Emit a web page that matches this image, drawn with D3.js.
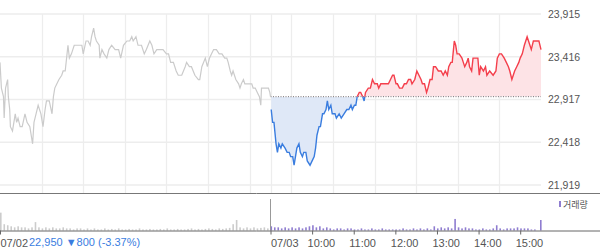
<!DOCTYPE html>
<html>
<head>
<meta charset="utf-8">
<script src="https://cdn.jsdelivr.net/npm/d3@7"></script>
<style>
 html, body { margin: 0; padding: 0; background: #fff; }
 svg { display: block; font-family: "Liberation Sans", Arial, sans-serif; }
</style>
</head>
<body>
<div id="chart"></div>
<script>
// values
var dayLabels = ["07/02", "07/03"];
var hourLabels = ["10:00", "11:00", "12:00", "13:00", "14:00", "15:00"];
var priceTicks = [21919, 22418, 22917, 23416, 23915];
var prevClose = 22950, prevChange = -800, prevChangePct = -3.37;

// minutes after 09:00 and price, day 1 (07/02)
var day1Minutes = [0, 2, 5, 6, 8, 11, 12, 14, 15, 18, 22, 24, 26, 29, 32, 36, 39, 43, 47, 49, 52, 55, 59, 62, 65, 67, 71, 75, 77, 79,
 82, 85, 89, 91, 94, 96, 98, 100, 103, 107, 111, 114, 118, 120, 124, 127, 130, 132, 135, 137, 139, 143, 144, 147, 150, 154, 157, 161, 166, 171,
 174, 178, 183, 187, 190, 192, 196, 199, 204, 208, 211, 216, 219, 222, 226, 231, 235, 240, 243, 246, 250, 254, 257, 262, 267, 269, 273, 276, 281, 286,
 288, 291, 296, 299, 302, 305, 308, 312, 316, 320, 324, 327, 329, 332, 334, 336, 340, 344, 346, 348, 351, 353, 356, 359, 363, 365, 368, 371, 374, 376,
 377, 382, 387, 389, 390];
var day1Prices = [23350, 23050, 22950, 22700, 23050, 23150, 22950, 22800, 22600, 22550, 22750, 22650, 22700, 22600, 22600, 22750, 22650, 22600, 22400, 22650, 22750, 22850, 22750, 22600, 22800, 22900, 22900, 22750, 22950, 23050,
 23100, 23150, 23200, 23250, 23250, 23400, 23550, 23400, 23450, 23550, 23550, 23550, 23550, 23450, 23600, 23600, 23550, 23650, 23750, 23650, 23600, 23550, 23400, 23500, 23450, 23400, 23500, 23550, 23500, 23500,
 23400, 23550, 23600, 23600, 23650, 23600, 23650, 23550, 23550, 23450, 23500, 23600, 23550, 23450, 23500, 23500, 23500, 23450, 23450, 23350, 23350, 23250, 23200, 23200, 23300, 23350, 23300, 23300, 23200, 23150,
 23150, 23300, 23400, 23300, 23400, 23450, 23500, 23500, 23450, 23450, 23400, 23400, 23350, 23250, 23200, 23250, 23150, 23100, 23050, 23100, 23150, 23100, 23100, 23100, 23100, 23050, 23050, 23000, 22950, 22850,
 23050, 23050, 23050, 23000, 22950];

// minutes after 09:00 and price, day 2 (07/03)
var day2Minutes = [1, 3, 5, 8, 10, 12, 15, 17, 21, 24, 27, 29, 32, 34, 36, 38, 41, 43, 46, 48, 51, 53, 57, 60, 63, 65, 67, 70, 72, 75,
 77, 80, 82, 84, 87, 89, 93, 95, 99, 102, 106, 110, 113, 116, 118, 121, 123, 125, 128, 130, 133, 135, 137, 141, 144, 147, 150, 154, 156, 159,
 162, 166, 170, 173, 176, 178, 181, 183, 186, 190, 193, 196, 199, 202, 204, 208, 211, 214, 217, 219, 222, 225, 227, 230, 233, 235, 238, 242, 246, 249,
 252, 255, 257, 260, 262, 265, 267, 269, 272, 276, 278, 280, 283, 285, 287, 290, 292, 296, 299, 301, 303, 307, 310, 312, 316, 321, 325, 327, 330, 333,
 337, 340, 343, 345, 348, 350, 352, 355, 358, 360, 363, 366, 368, 370, 372, 374, 376, 379, 383, 387, 390];
var day2Prices = [22800, 22650, 22650, 22400, 22300, 22400, 22350, 22400, 22350, 22300, 22300, 22250, 22250, 22150, 22250, 22350, 22400, 22300, 22250, 22300, 22300, 22200, 22150, 22200, 22250, 22350, 22500, 22600, 22600, 22750,
 22750, 22800, 22900, 22800, 22850, 22750, 22750, 22700, 22750, 22700, 22750, 22800, 22800, 22850, 22800, 22850, 22850, 22950, 23000, 23000, 22950, 22900, 23000, 23050, 23050, 23150, 23100, 23100, 23050, 23100,
 23100, 23100, 23100, 23150, 23200, 23200, 23100, 23100, 23050, 23050, 23100, 23100, 23150, 23150, 23100, 23150, 23250, 23200, 23150, 23100, 23100, 23000, 23050, 23150, 23150, 23300, 23300, 23250, 23250, 23200,
 23250, 23200, 23300, 23350, 23350, 23600, 23550, 23450, 23450, 23400, 23350, 23300, 23350, 23400, 23300, 23250, 23400, 23400, 23400, 23200, 23300, 23250, 23300, 23200, 23250, 23200, 23250, 23400, 23450, 23450,
 23400, 23350, 23300, 23250, 23150, 23200, 23250, 23300, 23350, 23400, 23450, 23550, 23600, 23650, 23600, 23550, 23500, 23600, 23600, 23600, 23500];

// volume per 5 minutes (thousand shares)
var day1Volume = [34, 12, 10, 8, 6, 8, 6, 6, 4, 6, 16, 6, 4, 6, 4, 6, 4, 4, 6, 4, 4, 2, 4, 4, 2, 4, 2, 4, 2, 2,
 4, 2, 3, 2, 4, 2, 2, 3, 2, 2, 4, 2, 2, 3, 2, 2, 3, 2, 4, 2, 2, 3, 2, 2, 3, 4, 2, 3, 2, 3,
 4, 3, 2, 4, 3, 4, 5, 12, 20, 6, 4, 6, 4, 6, 4, 5, 6, 4];
var day2Volume = [8, 6, 6, 4, 6, 4, 6, 4, 6, 4, 6, 8, 10, 6, 8, 4, 6, 4, 2, 4,
 4, 2, 4, 4, 2, 2, 4, 2, 2, 4, 2, 2, 4, 2, 2, 2, 2, 2, 4, 2,
 2, 4, 2, 4, 2, 4, 2, 8, 4, 6, 4, 6, 4, 22, 6, 4, 6, 4, 4, 2,
 2, 4, 2, 2, 4, 10, 4, 2, 4, 4, 4, 6, 4, 4, 4, 2, 2, 0, 20];

var w = 600, h = 248,
 plotRight = 541, priceTop = 14, priceBottom = 185, sepY = 193.5, volTop = 199, volBase = 230.5;

var x = d3.scaleLinear().domain([0, 780]).range([0, plotRight]),
 y = d3.scaleLinear().domain([21919, 23915]).range([priceBottom, priceTop]),
 yv = d3.scaleLinear().domain([0, 60]).range([volBase, volTop]);

var svg = d3.select("#chart").append("svg").attr("width", w).attr("height", h);
var defs = svg.append("defs");
defs.append("clipPath").attr("id", "clipUp").append("rect")
 .attr("x", 0).attr("y", 0).attr("width", w).attr("height", y(prevClose));
defs.append("clipPath").attr("id", "clipDown").append("rect")
 .attr("x", 0).attr("y", y(prevClose)).attr("width", w).attr("height", sepY - y(prevClose));

// grid
var gridTimes = d3.range(60, 780, 60).concat([390]);
svg.append("g").selectAll("line").data(gridTimes).join("line")
 .attr("x1", d => Math.round(x(d)) + 0.5).attr("x2", d => Math.round(x(d)) + 0.5)
 .attr("y1", priceTop).attr("y2", sepY)
 .attr("stroke", "#ededed").attr("stroke-width", 1.3);
svg.append("g").selectAll("line").data(priceTicks).join("line")
 .attr("x1", 0).attr("x2", plotRight)
 .attr("y1", d => y(d)).attr("y2", d => y(d))
 .attr("stroke", "#ededed").attr("stroke-width", 1.3);

// right price labels
svg.append("g").selectAll("text").data(priceTicks).join("text")
 .attr("x", 548).attr("y", d => y(d)).attr("dy", "0.36em")
 .attr("font-size", "10.5px").attr("fill", "#555")
 .text(d => d3.format(",")(d));

var pts1 = day1Minutes.map((m, i) => [m, day1Prices[i]]),
 pts2 = day2Minutes.map((m, i) => [m + 390, day2Prices[i]]);

var line = d3.line().x(d => x(d[0])).y(d => y(d[1])),
 area = d3.area().x(d => x(d[0])).y0(y(prevClose)).y1(d => y(d[1]));

svg.append("path").datum(pts2).attr("d", area).attr("fill", "#fde3e6").attr("clip-path", "url(#clipUp)");
svg.append("path").datum(pts2).attr("d", area).attr("fill", "#dfe8f7").attr("clip-path", "url(#clipDown)");

svg.append("line")
 .attr("x1", x(390)).attr("x2", plotRight).attr("y1", y(prevClose)).attr("y2", y(prevClose))
 .attr("stroke", "#777").attr("stroke-width", 1).attr("stroke-dasharray", "1,1.5");

svg.append("path").datum(pts1).attr("d", line)
 .attr("fill", "none").attr("stroke", "#cbcbcb").attr("stroke-width", 1.2);
svg.append("path").datum(pts2).attr("d", line)
 .attr("fill", "none").attr("stroke", "#f43f4c").attr("stroke-width", 1.4).attr("clip-path", "url(#clipUp)");
svg.append("path").datum(pts2).attr("d", line)
 .attr("fill", "none").attr("stroke", "#3a7ddf").attr("stroke-width", 1.4).attr("clip-path", "url(#clipDown)");

// separator between price and volume
svg.append("line").attr("x1", 0).attr("x2", w).attr("y1", sepY).attr("y2", sepY)
 .attr("stroke", "#777").attr("stroke-width", 1);

// volume
svg.append("g").selectAll("rect").data(day1Volume).join("rect")
 .attr("x", (d, i) => x(i * 5)).attr("width", 1.6)
 .attr("y", d => yv(d)).attr("height", d => volBase - yv(d))
 .attr("fill", "#cccccc");
svg.append("g").selectAll("rect").data(day2Volume).join("rect")
 .attr("x", (d, i) => Math.min(x(390 + i * 5), plotRight - 1)).attr("width", 1.6)
 .attr("y", d => yv(d)).attr("height", d => volBase - yv(d))
 .attr("fill", "#8f7dd0");

svg.append("line").attr("x1", x(390)).attr("x2", x(390)).attr("y1", volTop).attr("y2", volBase)
 .attr("stroke", "#999").attr("stroke-width", 1);

svg.append("rect").attr("x", 559).attr("y", 201).attr("width", 2).attr("height", 6).attr("fill", "#8f7dd0");
svg.append("text").attr("x", 563).attr("y", 207.5).attr("font-size", "9px").attr("fill", "#555")
 .attr("font-family", "'Noto Sans CJK KR', sans-serif").text("거래량");

// bottom axis
var tickTimes = [0, 390].concat(d3.range(450, 780, 60)),
 tickLabels = dayLabels.concat(hourLabels);
var xAxis = d3.axisBottom(x).tickValues(tickTimes).tickSize(4).tickSizeOuter(0)
 .tickFormat((d, i) => tickLabels[i]);
var ax = svg.append("g").attr("transform", "translate(0," + volBase + ")").call(xAxis);
ax.select(".domain").attr("d", "M0,0.5H" + w).attr("stroke", "#666");
ax.selectAll(".tick line").attr("stroke", "#666");
ax.selectAll(".tick text")
 .attr("text-anchor", "start").attr("x", (d, i) => i < 2 ? 0 : -5).attr("y", 9)
 .attr("font-size", "11px").attr("font-family", "'Liberation Sans', Arial, sans-serif").attr("fill", "#555");

svg.append("text").attr("x", 29).attr("y", 246).attr("font-size", "11px").attr("fill", "#3a7ddf")
 .text(d3.format(",")(prevClose) + " \u25BC" + Math.abs(prevChange) + " (" + prevChangePct.toFixed(2) + "%)");
</script>
</body>
</html>
